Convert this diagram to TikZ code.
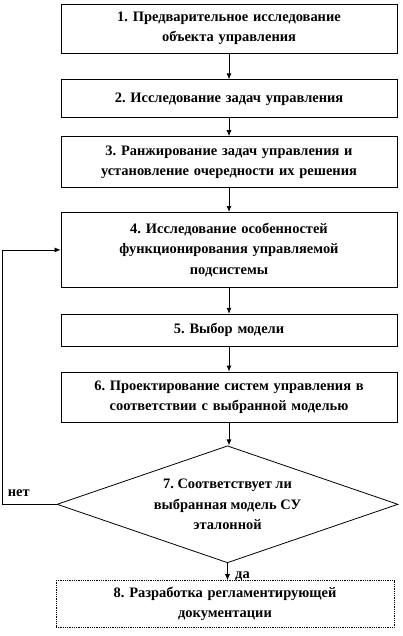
\documentclass[tikz,border=0pt]{standalone}
\usepackage{fontspec}
\setmainfont{Liberation Serif}
\usetikzlibrary{shapes.geometric,arrows.meta,positioning}
\frenchspacing

\begin{document}
\begin{tikzpicture}[
    x=1bp, y=-1bp,
    font=\fontsize{14.5}{20.5}\selectfont\bfseries,
    stage/.style={rectangle, draw, line width=0.8bp, text width=326bp, align=center, minimum width=336bp, inner sep=3bp},
    check/.style={diamond, draw, line width=0.8bp, aspect=2.9, minimum width=341bp, minimum height=117bp, inner sep=0pt, align=center},
    line/.style={draw, line width=0.8bp, -{Latex[length=6bp,width=5bp]}}
]
    \useasboundingbox (0,0) rectangle (402,636);

    % Stages
    \node [stage, minimum height=49bp] (s1) at (229,28.5) {1. Предварительное исследование\\объекта управления};
    \node [stage, minimum height=38bp, below=26bp of s1] (s2) {2. Исследование задач управления};
    \node [stage, minimum height=51bp, below=18bp of s2] (s3) {3. Ранжирование задач управления и\\установление очередности их решения};
    \node [stage, minimum height=75bp, below=24bp of s3] (s4) {4. Исследование особенностей\\функционирования управляемой\\подсистемы};
    \node [stage, minimum height=32bp, below=26bp of s4] (s5) {5. Выбор модели};
    \node [stage, minimum height=50bp, below=25bp of s5] (s6) {6. Проектирование систем управления в\\соответствии с выбранной моделью};

    % Decision
    \node [check, below=23bp of s6, xshift=-1.5bp] (s7) {7. Соответствует ли\\выбранная модель СУ\\эталонной};
    \node [stage, densely dotted, minimum width=338bp, minimum height=47bp, below=17bp of s7, xshift=-2.5bp] (s8) {8. Разработка регламентирующей\\документации};

    % Path connections
    \draw [line] (s1) -- (s2);
    \draw [line] (s2) -- (s3);
    \draw [line] (s3) -- (s4);
    \draw [line] (s4) -- (s5);
    \draw [line] (s5) -- (s6);
    \draw [line] (s6.south) -- (s6.south |- s7.north);
    \draw [line] (s7.south) -- node[right, xshift=4bp, yshift=-5bp] {да} (s7.south |- s8.north);
    \draw [line] (s7.west) -- node[pos=0.7, above=4bp] {нет} ++(-54,0) |- (s4.west);
\end{tikzpicture}
\end{document}
